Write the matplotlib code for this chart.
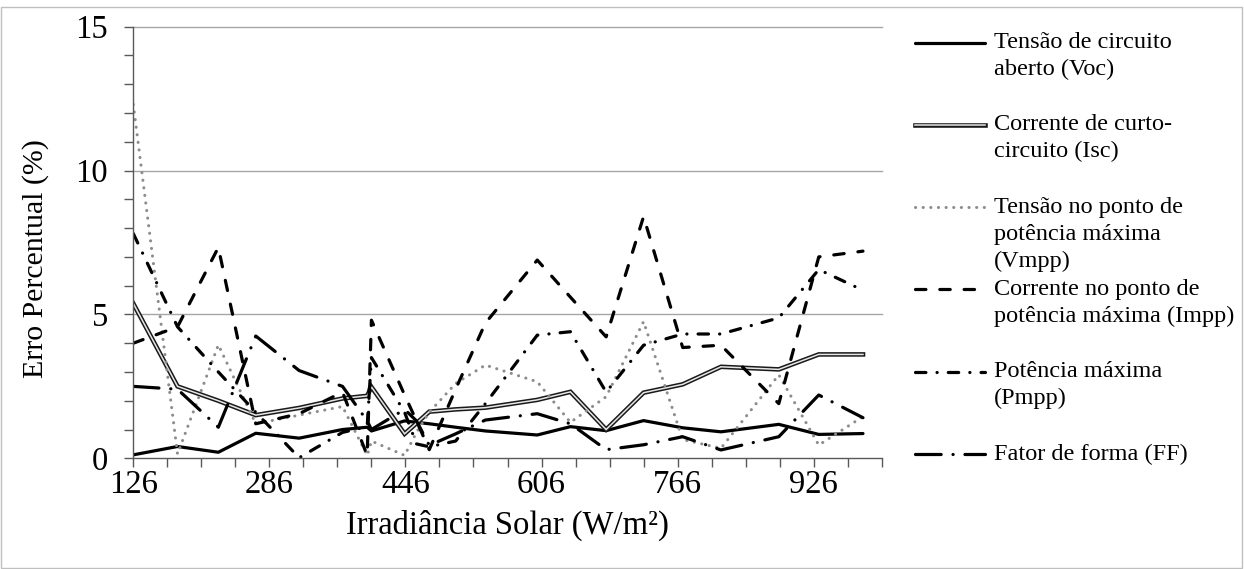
import matplotlib
matplotlib.use("Agg")
import numpy as np
import matplotlib.pyplot as plt
from matplotlib.lines import Line2D
from matplotlib.patches import Rectangle
from matplotlib.ticker import FixedLocator

# Solar irradiance of each measurement (W/m²)
irradiance = [126, 178, 226, 270, 321, 372, 401, 406, 445, 459, 474,
              505, 540, 601, 640, 682, 726, 772, 817, 885, 932, 984]

# Percentage error of each parameter
voc = [0.12, 0.41, 0.21, 0.87, 0.70, 1.00, 1.08, 0.95, 1.30, 1.25, 1.20,
       1.08, 0.95, 0.81, 1.10, 0.96, 1.31, 1.06, 0.92, 1.18, 0.83, 0.86]
isc = [5.38, 2.50, 2.00, 1.50, 1.75, 2.08, 2.17, 2.48, 0.85, 1.22, 1.62,
       1.70, 1.76, 2.03, 2.31, 1.00, 2.28, 2.57, 3.18, 3.09, 3.61, 3.61]
vmpp = [12.30, 0.15, 3.94, 1.20, 1.50, 1.80, 0.10, 0.60, 0.10, 0.90, 1.60,
        2.60, 3.24, 2.66, 1.25, 2.14, 4.75, 0.65, 0.35, 2.90, 0.46, 1.45]
impp = [4.00, 4.57, 7.33, 1.20, 1.55, 2.30, 0.10, 4.80, 2.20, 1.30, 0.30,
        2.40, 4.70, 6.89, 5.60, 4.22, 8.40, 3.85, 3.93, 1.90, 7.00, 7.20]
pmpp = [7.81, 4.57, 3.00, 1.60, 0.02, 0.90, 1.10, 3.50, 1.60, 0.50, 0.40,
        0.60, 1.90, 4.28, 4.40, 2.30, 3.93, 4.32, 4.32, 4.88, 6.56, 5.84]
ff = [2.50, 2.40, 1.08, 4.25, 3.05, 2.50, 1.30, 1.00, 1.70, 1.30, 0.45,
      0.85, 1.33, 1.55, 1.20, 0.30, 0.47, 0.75, 0.29, 0.75, 2.20, 1.41]

x_tick_labels = [126, 286, 446, 606, 766, 926]
y_tick_labels = [0, 5, 10, 15]

series_labels = [
    "Tensão de circuito\naberto (Voc)",
    "Corrente de curto-\ncircuito (Isc)",
    "Tensão no ponto de\npotência máxima\n(Vmpp)",
    "Corrente no ponto de\npotência máxima (Impp)",
    "Potência máxima\n(Pmpp)",
    "Fator de forma (FF)",
]

plt.rcParams["font.family"] = ["Liberation Serif", "DejaVu Serif"]
plt.rcParams["lines.scale_dashes"] = False

W, H = 1244, 569
fig = plt.figure(figsize=(W / 100, H / 100), dpi=100)
fig.patch.set_facecolor("white")

left, right, top, bottom = 133.3, 881.7, 26.7, 458.3
ax = fig.add_axes([left / W, 1 - bottom / H, (right - left) / W, (bottom - top) / H])

axis_grey = "#595959"

# line styles for each series
styles = [
    [dict(color="black", lw=2.3, solid_capstyle="round", solid_joinstyle="round")],
    [dict(color="#1a1a1a", lw=3.3, solid_joinstyle="miter"),
     dict(color="#e6e6e6", lw=1.1, solid_joinstyle="miter")],
    [dict(color="#8c8c8c", lw=2.2, linestyle=(0, (0.1, 5.4)), dash_capstyle="round")],
    [dict(color="black", lw=2.3, linestyle=(0, (7.5, 10.0)), dash_capstyle="round")],
    [dict(color="black", lw=2.3, linestyle=(0, (7.5, 8.0, 0.1, 8.0)), dash_capstyle="round")],
    [dict(color="black", lw=2.3, linestyle=(0, (18.5, 8.5, 0.1, 8.5)), dash_capstyle="round")],
]

all_series = [voc, isc, vmpp, impp, pmpp, ff]
for values, layers in zip(all_series, styles):
    for kw in layers:
        ax.plot(irradiance, values, **kw)

ax.set_xlim(126, 1006)
ax.set_ylim(0, 15)

ax.xaxis.set_major_locator(FixedLocator(x_tick_labels))
ax.xaxis.set_minor_locator(FixedLocator(np.arange(126, 1007, 40)))
ax.set_xticklabels([str(v) for v in x_tick_labels])
ax.yaxis.set_major_locator(FixedLocator(y_tick_labels))
ax.yaxis.set_minor_locator(FixedLocator(np.arange(0, 16, 1)))
ax.set_yticklabels([str(v) for v in y_tick_labels])

for s in ["top", "right"]:
    ax.spines[s].set_visible(False)
for s in ["left", "bottom"]:
    ax.spines[s].set_color(axis_grey)
    ax.spines[s].set_linewidth(1.0)

ax.tick_params(axis="both", which="both", direction="out", length=6.2,
               width=1.0, color=axis_grey, labelsize=23.5, labelcolor="black")
ax.tick_params(axis="x", which="major", pad=2)
ax.tick_params(axis="y", which="major", pad=12)

# horizontal gridlines at the major y values
for yv in y_tick_labels[1:]:
    ax.axhline(yv, color="#a6a6a6", lw=1.0, zorder=0, clip_on=False)

fig.text(507 / W, 1 - 525 / H, "Irradiância Solar (W/m²)", ha="center",
         va="center", fontsize=23.5)
fig.text(36 / W, 1 - 259 / H, "Erro Percentual (%)", ha="center",
         va="center", rotation=90, fontsize=21.5)

# legend drawn as sample lines followed by wrapped text
entry_y0, entry_step, line_step = 42.5, 82.3, 27.0
for i, (label, layers) in enumerate(zip(series_labels, styles)):
    y = entry_y0 + i * entry_step
    for kw in layers:
        fig.add_artist(Line2D([915 / W, 985 / W], [1 - y / H, 1 - y / H],
                              transform=fig.transFigure, **kw))
    for j, text_line in enumerate(label.split("\n")):
        fig.text(994 / W, 1 - (y + j * line_step) / H, text_line, ha="left",
                 va="center", fontsize=17.5)

# chart frame
fig.add_artist(Rectangle((1 / W, 1 / H), 1241 / W, 561 / H, fill=False,
                         edgecolor="#bfbfbf", lw=1.0, transform=fig.transFigure))

fig.savefig("out.png", dpi=100)
